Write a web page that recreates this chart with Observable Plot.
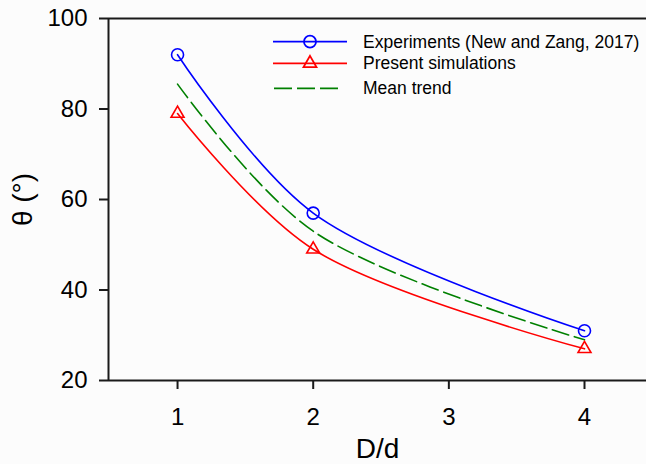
<!DOCTYPE html>
<html><head><meta charset="utf-8">
<script src="https://cdn.jsdelivr.net/npm/d3@7"></script>
<script src="https://cdn.jsdelivr.net/npm/@observablehq/plot@0.6"></script>
<style>
html,body{margin:0;padding:0;background:#fcfcfc;}
#wrap{position:relative;width:646px;height:464px;overflow:hidden;}
#legend{position:absolute;left:0;top:0;}
g[aria-label="x-axis label"] text, g[aria-label="y-axis label"] text{font-size:28px;}
</style></head><body><div id="wrap"></div>
<script>
// ---- data ----
const ratios = [1, 2, 4];
const experiments = [92, 57, 31];
const simulations = [79, 49, 27];
const meanTrend = [85.5, 53, 29];
const xTicks = [1, 2, 3, 4];
const yTicks = [20, 40, 60, 80, 100];
const seriesNames = ["Experiments (New and Zang, 2017)", "Present simulations", "Mean trend"];
const seriesColors = ["#0000ff", "#ff0000", "#008000"];
const seriesSymbols = ["circle", "triangle", null];

const rows = vals => ratios.map((r, i) => ({x: r, y: vals[i]}));
const exp = rows(experiments), sim = rows(simulations), mean = rows(meanTrend);
const axisColor = "#1a1a1a";

const plot = Plot.plot({
  width: 646, height: 464,
  marginLeft: 108, marginRight: 0, marginTop: 18, marginBottom: 84,
  style: {fontFamily: "'Liberation Sans', Arial, sans-serif", fontSize: "24px", background: "transparent", color: "#000", overflow: "visible"},
  x: {domain: [0.491, 4.457]},
  y: {domain: [20, 100]},
  marks: [
    Plot.ruleY([20, 100], {stroke: axisColor, strokeWidth: 2}),
    Plot.ruleX([0.491], {stroke: axisColor, strokeWidth: 2}),
    Plot.axisX({ticks: xTicks, tickSize: 9, tickPadding: 18, tickFormat: d => String(d), label: "D/d", labelArrow: "none", labelAnchor: "center", labelOffset: 77, stroke: axisColor, strokeWidth: 2, fontSize: 24}),
    Plot.axisY({ticks: yTicks, tickSize: 9, tickPadding: 12, tickFormat: d => String(d), label: "θ (°)", labelArrow: "none", labelAnchor: "center", labelOffset: 96, stroke: axisColor, strokeWidth: 2, fontSize: 24}),
    Plot.line(mean, {x: "x", y: "y", curve: "catmull-rom", stroke: seriesColors[2], strokeWidth: 1.6, strokeDasharray: "17,6"}),
    Plot.line(exp, {x: "x", y: "y", curve: "catmull-rom", stroke: seriesColors[0], strokeWidth: 1.6}),
    Plot.line(sim, {x: "x", y: "y", curve: "catmull-rom", stroke: seriesColors[1], strokeWidth: 1.6}),
    Plot.dot(exp, {x: "x", y: "y", r: 6, symbol: "circle", stroke: seriesColors[0], strokeWidth: 1.6, fill: "none"}),
    Plot.dot(sim, {x: "x", y: "y", r: 4.8, symbol: "triangle", stroke: seriesColors[1], strokeWidth: 1.6, fill: "none"})
  ]
});
// strip any automatic label arrows
plot.querySelectorAll('g[aria-label$="axis label"] text').forEach(t => {
  t.textContent = t.textContent.replace(/\s*[→←↑↓]\s*/g, "");
});
const wrap = document.getElementById("wrap");
wrap.appendChild(plot);

// ---- legend (overlay) ----
const rowY = [41.7, 63.3, 88.3];
const lg = d3.select(wrap).append("svg").attr("id", "legend").attr("width", 646).attr("height", 120)
  .style("font-family", "'Liberation Sans', Arial, sans-serif").style("font-size", "17.5px");
seriesNames.forEach((name, i) => {
  const g = lg.append("g").attr("transform", `translate(0,${rowY[i]})`);
  if (seriesSymbols[i]) {
    g.append("line").attr("x1", 273).attr("x2", 347).attr("y1", 0).attr("y2", 0)
      .attr("stroke", seriesColors[i]).attr("stroke-width", 1.8);
    const sym = seriesSymbols[i] === "circle" ? d3.symbolCircle : d3.symbolTriangle;
    const r = seriesSymbols[i] === "circle" ? 6 : 4.8;
    g.append("path").attr("transform", "translate(310,0)")
      .attr("d", d3.symbol(sym, Math.PI * r * r)())
      .attr("fill", "none").attr("stroke", seriesColors[i]).attr("stroke-width", 1.8);
  } else {
    g.append("line").attr("x1", 274).attr("x2", 339).attr("y1", 0).attr("y2", 0)
      .attr("stroke", seriesColors[i]).attr("stroke-width", 1.8).attr("stroke-dasharray", "18,5");
  }
  g.append("text").attr("x", 363).attr("y", 0).attr("dy", "0.35em").attr("fill", "#000").text(name);
});
</script></body></html>
